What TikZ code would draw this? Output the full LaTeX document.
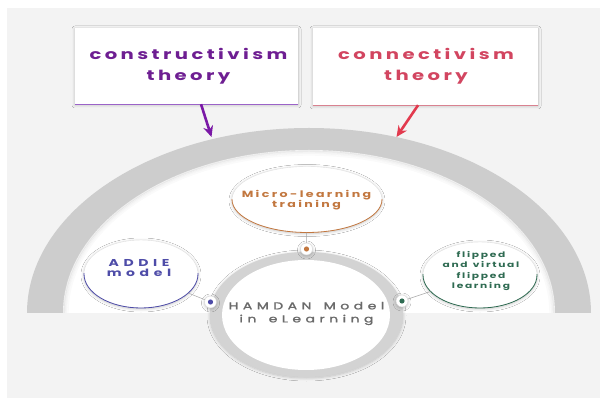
\documentclass[tikz,border=0pt]{standalone}
\usepackage{fontspec}
\usetikzlibrary{shapes.geometric,shadows.blur,arrows.meta,calc}
\newfontfamily\titlefont{Poppins}[LetterSpace=17.5]
\newfontfamily\microfont{Poppins}[LetterSpace=19]
\newfontfamily\addiefont{Poppins}[LetterSpace=33]
\newfontfamily\flipfont{Poppins}[LetterSpace=16,WordSpace=1.3]
\newfontfamily\corefont{Poppins}[LetterSpace=32,WordSpace=1.5,FakeBold=1.5]

\definecolor{bgc}{HTML}{F3F3F3}
\definecolor{bandc}{HTML}{CDCDCD}
\definecolor{ringc}{HTML}{D3D3D3}
\definecolor{purp}{HTML}{6E1E92}
\definecolor{purpline}{HTML}{9B63C8}
\definecolor{purparrow}{HTML}{7A18A6}
\definecolor{redt}{HTML}{D24560}
\definecolor{redline}{HTML}{D98290}
\definecolor{redarrow}{HTML}{E23A4E}
\definecolor{orng}{HTML}{C2773F}
\definecolor{blu}{HTML}{4E4CA8}
\definecolor{grn}{HTML}{2F6B52}
\definecolor{txtg}{HTML}{6A6A6A}

\tikzset{
  softshadow/.style={blur shadow={shadow xshift=0pt,shadow yshift=-1pt,
      shadow blur steps=8,shadow blur radius=3pt,shadow opacity=22}},
  theorybox/.style={rectangle,fill=white,inner sep=0pt,softshadow},
  widetext/.style={align=center,inner sep=0pt,xscale=1.4},
  bubble/.style={ellipse,fill=white,draw=black!12,line width=0.4pt,
      inner sep=0pt,softshadow},
  hub/.style={circle,fill=white,draw=black!15,line width=0.4pt,
      minimum size=12pt,inner sep=0pt,softshadow},
  conn/.style={draw=black!35,line width=0.5pt},
  bigarrow/.style={line width=2.6pt,-{Stealth[length=11pt,width=10pt]}},
}

\begin{document}
\begin{tikzpicture}[x=1pt,y=-1pt]
\useasboundingbox (0,0) rectangle (606,403);
\fill[white] (0,0) rectangle (606,403);
\fill[bgc] (7,8) rectangle (600,398);

% half-ring holding the model
\begin{scope}
  \clip (0,0) rectangle (606,313);
  \fill[bandc] (309,313) ellipse [x radius=282pt,y radius=185pt];
  \fill[white] (309,313) ellipse [x radius=246pt,y radius=163pt];
  \foreach \d/\o in {0.8/0.07,2/0.05,3.4/0.035,5/0.02}{
    \draw[black,opacity=\o,line width=1.4pt]
      (309,313) ellipse [x radius=246pt-\d pt,y radius=163pt-\d pt];
  }
\end{scope}

% theory boxes
\node[theorybox,minimum width=223pt,minimum height=76pt] (cons) at (186.5,66) {};
\node[theorybox,minimum width=225pt,minimum height=77pt] (conn) at (425.5,66.5) {};
\draw[purpline,line width=1.3pt] (cons.south west) -- (cons.south east);
\draw[redline,line width=1.3pt] (conn.south west) -- (conn.south east);
\node[widetext,text=purp,
      font=\titlefont\bfseries\fontsize{14}{21}\selectfont] (constxt) at (188.5,66.5) {constructivism\\theory};
\node[widetext,text=redt,
      font=\titlefont\bfseries\fontsize{14}{21}\selectfont] (conntxt) at (426,66.5) {connectivism\\theory};

% arrows into the half-ring
\coordinate (consfoot) at ($(cons.south west)!0.565!(cons.south east)$);
\coordinate (connfoot) at ($(conn.south west)!0.467!(conn.south east)$);
\coordinate (constip) at (211.5,137);
\coordinate (conntip) at (396.5,137);
\draw[bigarrow,purparrow] (consfoot) -- (constip);
\draw[bigarrow,redarrow] (connfoot) -- (conntip);

% central hub
\node[ellipse,fill=ringc,minimum width=193pt,minimum height=125pt,inner sep=0pt,softshadow] (ring) at (306.5,314.5) {};
\node[ellipse,fill=white,minimum width=168pt,minimum height=110pt,inner sep=0pt] (core) at (306,315) {};
\node[widetext,text=txtg,
      font=\corefont\fontsize{10}{13}\selectfont] (coretxt) at (306.5,313.5) {HAMDAN Model\\in eLearning};

% satellite bubbles
\node[bubble,minimum width=150pt,minimum height=66pt] (micro) at (307,199.5) {};
\node[bubble,minimum width=114pt,minimum height=68pt] (addie) at (141,274) {};
\node[bubble,minimum width=114pt,minimum height=66pt] (flip) at (480,275) {};

\begin{scope}
  \clip (200,199.5) rectangle (420,240);
  \draw[orng,line width=0.8pt] (micro.center) ellipse [x radius=75pt,y radius=33pt];
\end{scope}
\begin{scope}
  \clip (70,274) rectangle (210,315);
  \draw[blu,line width=0.8pt] (addie.center) ellipse [x radius=57pt,y radius=34pt];
\end{scope}
\begin{scope}
  \clip (410,275) rectangle (550,315);
  \draw[grn,line width=0.8pt] (flip.center) ellipse [x radius=57pt,y radius=33pt];
\end{scope}

\node[widetext,text=orng,font=\microfont\bfseries\fontsize{9}{8.5}\selectfont] (microtxt) at (306.5,200) {Micro-learning\\training};
\node[widetext,text=blu,font=\addiefont\bfseries\fontsize{10}{10}\selectfont] (addietxt) at (139,268) {ADDIE\\model};
\node[widetext,text=grn,font=\flipfont\bfseries\fontsize{7.6}{10.6}\selectfont] (fliptxt) at (481,271) {flipped\\and virtual\\flipped\\learning};

% link points on the hub
\node[hub] (dmicro) at (306.5,249) {};
\node[hub] (daddie) at (210.5,302) {};
\node[hub] (dflip) at (402,301) {};
\fill[orng] (dmicro) circle (2.6pt);
\fill[blu] (daddie) circle (2.6pt);
\fill[grn] (dflip) circle (2.6pt);

\draw[conn] (micro) -- (dmicro);
\draw[conn] (addie) -- (daddie);
\draw[conn] (flip) -- (dflip);
\end{tikzpicture}
\end{document}
